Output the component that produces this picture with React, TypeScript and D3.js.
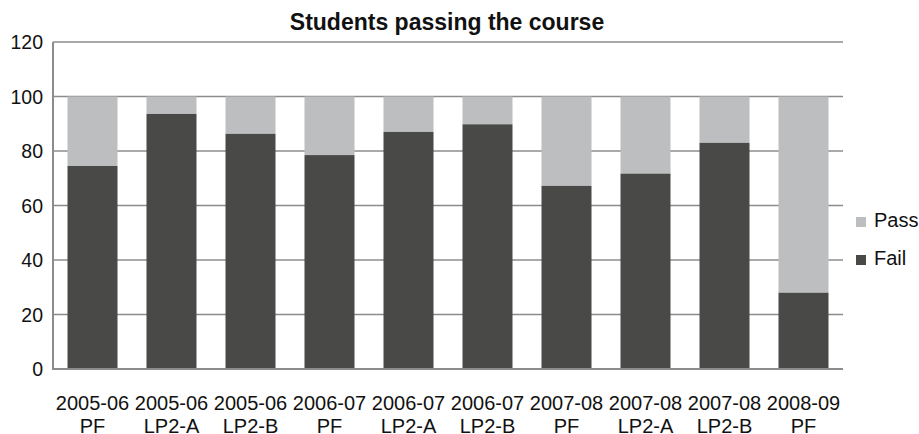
import React from "react";
import * as d3 from "d3";

const categories = [
  ["2005-06", "PF"],
  ["2005-06", "LP2-A"],
  ["2005-06", "LP2-B"],
  ["2006-07", "PF"],
  ["2006-07", "LP2-A"],
  ["2006-07", "LP2-B"],
  ["2007-08", "PF"],
  ["2007-08", "LP2-A"],
  ["2007-08", "LP2-B"],
  ["2008-09", "PF"],
];
const failValues = [74.5, 93.6, 86.3, 78.5, 87, 89.8, 67.2, 71.7, 83, 28];
const passValues = failValues.map((v) => 100 - v);
const yTicks = [0, 20, 40, 60, 80, 100, 120];
const seriesNames = ["Pass", "Fail"];
const colors = { Pass: "#bdbebf", Fail: "#494948" };

export default function App() {
  const W = 919, H = 434;
  const left = 53, right = 843, top = 42, bottom = 369;
  const x = d3.scaleBand<number>().domain(d3.range(categories.length)).range([left, right]).paddingInner(29 / 79).paddingOuter(14.5 / 79);
  const y = d3.scaleLinear().domain([0, 120]).range([bottom, top]);
  const font = "'Liberation Sans', Arial, sans-serif";
  return (
    <svg width={W} height={H} style={{ position: "absolute", left: 0, top: 0 }} fontFamily={font}>
      <rect width={W} height={H} fill="#fff" />
      <text x={447} y={30} textAnchor="middle" fontWeight="bold" fontSize={23} fill="#111">Students passing the course</text>
      {yTicks.map((t) => (
        <g key={t}>
          {t > 0 && <line x1={left} x2={right} y1={y(t)} y2={y(t)} stroke="#8c8c8c" strokeWidth={1.5} />}
          <text x={43} y={y(t)} dy="0.36em" textAnchor="end" fontSize={19.5} fill="#111">{t}</text>
        </g>
      ))}
      {categories.map((c, i) => (
        <g key={i}>
          <rect x={x(i)} width={x.bandwidth()} y={y(100)} height={y(100 - passValues[i]) - y(100)} fill={colors.Pass} />
          <rect x={x(i)} width={x.bandwidth()} y={y(failValues[i])} height={y(0) - y(failValues[i])} fill={colors.Fail} />
          <text x={(x(i) as number) + x.bandwidth() / 2} y={410} textAnchor="middle" fontSize={20} fill="#111">{c[0]}</text>
          <text x={(x(i) as number) + x.bandwidth() / 2} y={433} textAnchor="middle" fontSize={20} fill="#111">{c[1]}</text>
        </g>
      ))}
      <line x1={left} x2={left} y1={top} y2={bottom} stroke="#8c8c8c" strokeWidth={2} />
      <line x1={left - 1} x2={right} y1={bottom} y2={bottom} stroke="#8c8c8c" strokeWidth={2} />
      {seriesNames.map((s, i) => (
        <g key={s}>
          <rect x={856} y={217 + i * 38} width={10} height={10} fill={colors[s as "Pass" | "Fail"]} />
          <text x={874} y={227 + i * 38} fontSize={20} fill="#111">{s}</text>
        </g>
      ))}
    </svg>
  );
}
